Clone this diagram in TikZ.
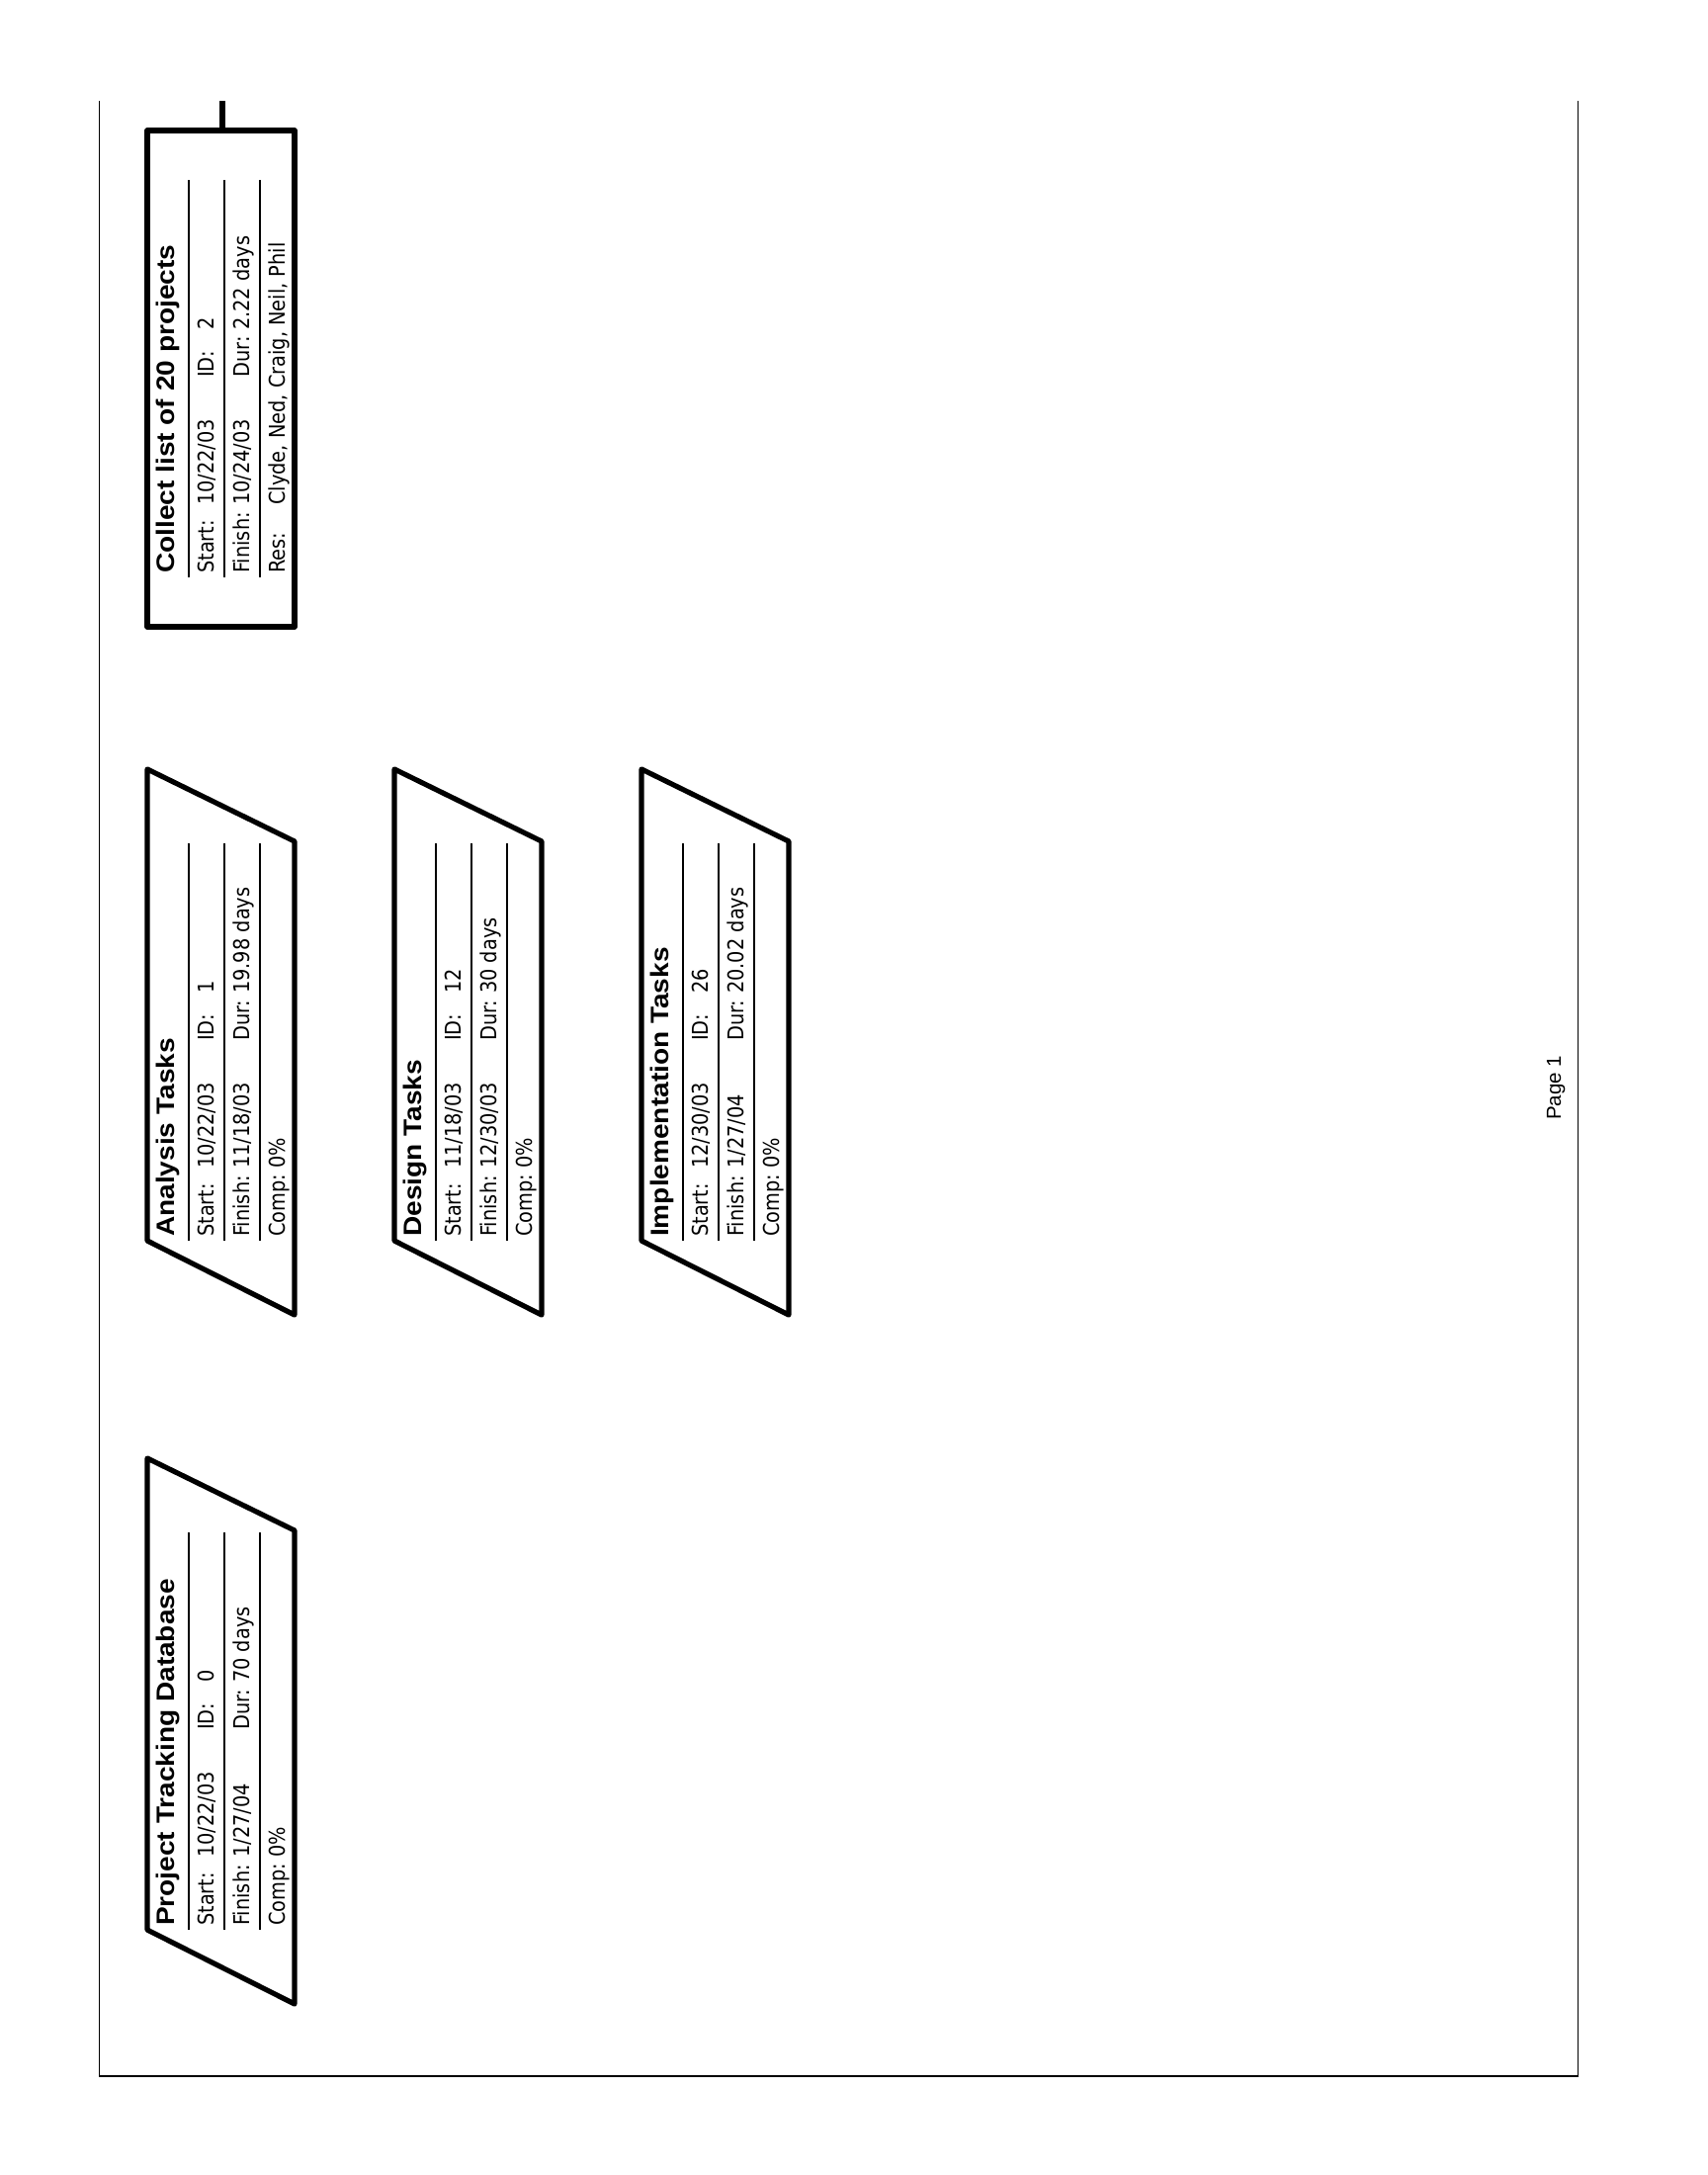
\documentclass[tikz,border=0pt]{standalone}
\usepackage{fontspec}
\setmainfont{Liberation Sans}
\newfontfamily\ttlfont[FakeStretch=1.1]{Liberation Sans}
\newfontfamily\bodyfont[FakeStretch=0.88]{DejaVu Sans}
\tikzset{
  boxedge/.style={line width=5.2pt, line join=round},
  sepline/.style={line width=1.5pt},
  frameline/.style={line width=1.4pt},
  ttl/.style={rotate=90, anchor=base west, inner sep=0pt, font=\ttlfont\bfseries\fontsize{25.5pt}{26pt}\selectfont},
  txt/.style={rotate=90, anchor=base west, inner sep=0pt, font=\bodyfont\fontsize{22pt}{24pt}\selectfont},
}
% content of a task box; origin = lower end of the separator lines at the box's left edge
\newcommand\boxtext[8]{%
  \draw[sepline] (42,-402) -- (42,0);
  \draw[sepline] (78,-402) -- (78,0);
  \draw[sepline] (114,-402) -- (114,0);
  \node[ttl] (#1-title) at (27,-4) {#2};
  \node[txt] (#1-sl) at (67.5,-4) {Start:};
  \node[txt] (#1-sv) at (67.5,-73) {#3};
  \node[txt] (#1-il) at (67.5,-202) {ID:};
  \node[txt] (#1-iv) at (67.5,-250) {#4};
  \node[txt] (#1-fl) at (103.5,-4) {Finish:};
  \node[txt] (#1-fv) at (103.5,-73) {#5};
  \node[txt] (#1-dl) at (103.5,-202) {Dur:};
  \node[txt] (#1-dv) at (103.5,-250) {#6};
  \node[txt] (#1-rl) at (139.5,-4) {#7};
  \node[txt] (#1-rv) at (139.5,-73) {#8};
}
\newcommand\slantbox[9]{%
  \begin{scope}[shift={(#2,#3)}]
    \draw[boxedge] (0,0) -- (149,73) -- (149,552) -- (0,477) -- cycle;
    \begin{scope}[shift={(0,477)}]
      \boxtext{#1}{#4}{#5}{#6}{#7}{#8}{Comp:}{#9}
    \end{scope}
  \end{scope}
}
\begin{document}
\begin{tikzpicture}[x=1pt,y=-1pt]
  \useasboundingbox (0,0) rectangle (1728,2200);
  \fill[white] (0,0) rectangle (1728,2200);
  % page frame
  \draw[frameline] (100.5,102) -- (100.5,2100);
  \draw[frameline] (1596.5,102) -- (1596.5,2100);
  \draw[line width=2pt] (99.8,2100) -- (1597.2,2100);
  \node[rotate=90, anchor=base west, inner sep=0pt, font=\fontsize{20.5pt}{21pt}\selectfont] (page) at (1579,1133) {Page 1};

  \slantbox{ptd}{149}{1475}{Project Tracking Database}{10/22/03}{0}{1/27/04}{70 days}{0\%}
  \slantbox{ana}{149}{778}{Analysis Tasks}{10/22/03}{1}{11/18/03}{19.98 days}{0\%}
  \slantbox{des}{399}{778}{Design Tasks}{11/18/03}{12}{12/30/03}{30 days}{0\%}
  \slantbox{imp}{649}{778}{Implementation Tasks}{12/30/03}{26}{1/27/04}{20.02 days}{0\%}

  % collect list box
  \begin{scope}[shift={(149,132)}]
    \draw[boxedge] (0,0) rectangle (149,502);
    \coordinate (cl-top) at (76,0);
    \begin{scope}[shift={(0,452)}]
      \boxtext{cl}{Collect list of 20 projects}{10/22/03}{2}{10/24/03}{2.22 days}{Res:}{Clyde, Ned, Craig, Neil, Phil}
    \end{scope}
  \end{scope}
  \coordinate (stem-top) at (225,102);
  \draw[line width=5.2pt] (stem-top) -- (cl-top);
\end{tikzpicture}
\end{document}
